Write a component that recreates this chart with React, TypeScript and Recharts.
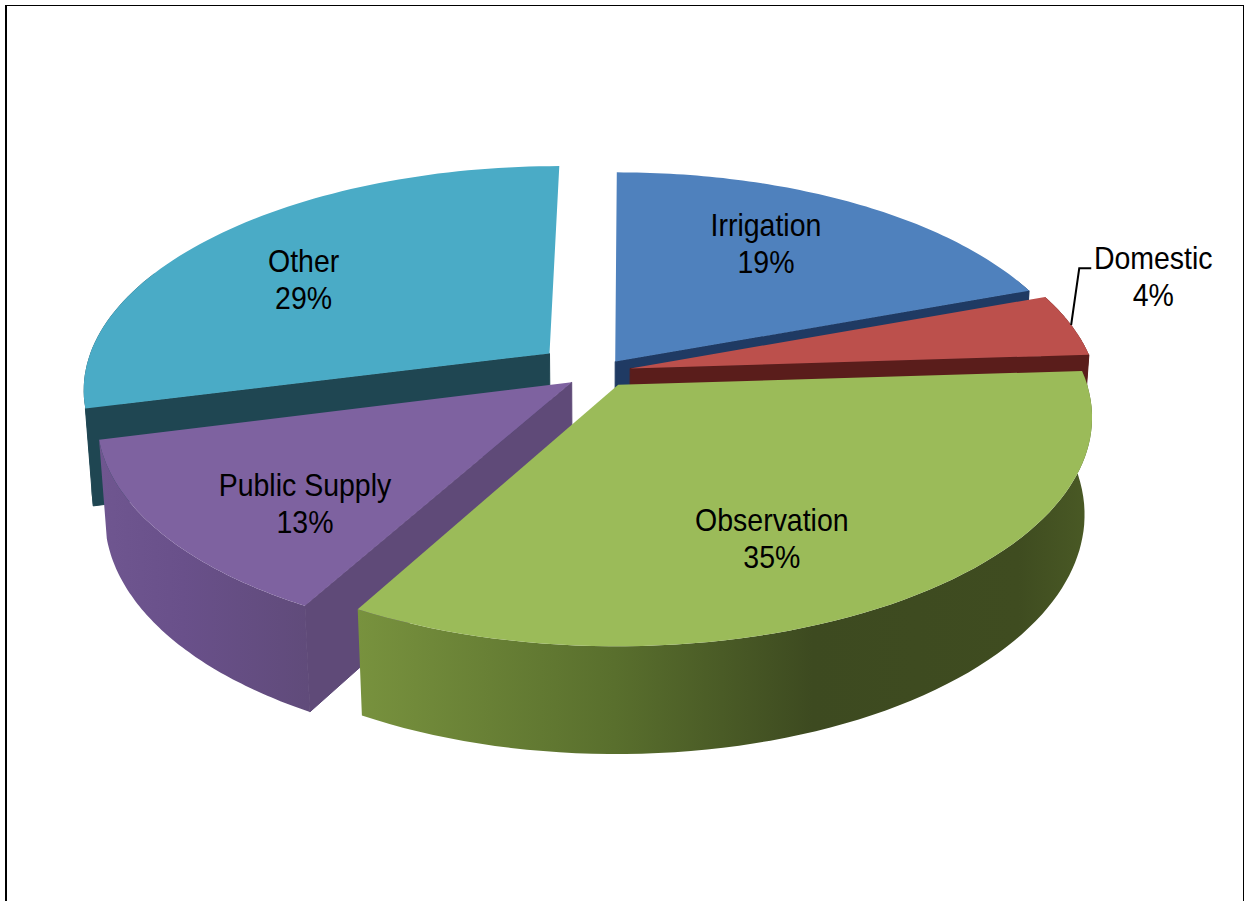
import { Pie, PieChart } from 'recharts'

// Shares in percent, listed from the back slice round the pie clockwise
const categories = ['Other', 'Irrigation', 'Domestic', 'Observation', 'Public Supply']
const shares = [29, 19, 4, 35, 13]

const data = categories.map((name, i) => ({ name, value: shares[i] }))

// Slice pull-out as a fraction of the radius
const explode: Record<string, number> = {
  Other: 0.14,
  Irrigation: 0.058,
  Domestic: 0.067,
  Observation: 0.07,
  'Public Supply': 0.076,
}

const topFill: Record<string, string> = {
  Other: '#4aabc6',
  Irrigation: '#4f81bd',
  Domestic: '#bc504c',
  Observation: '#9bbb59',
  'Public Supply': '#7e62a0',
}

const cutFill: Record<string, string> = {
  Other: '#1f4652',
  Irrigation: '#1f3a63',
  Domestic: '#5a1d1b',
  Observation: '#5f7a2e',
  'Public Supply': '#5f4a78',
}

const wallStops: Record<string, [number, string][]> = {
  Other: [[0, '#1f4652'], [1, '#1f4652']],
  Irrigation: [[0, '#1f3a63'], [1, '#1f3a63']],
  Domestic: [[0, '#5a1d1b'], [1, '#5a1d1b']],
  Observation: [[0, '#78923e'], [0.35, '#596f2d'], [0.62, '#3d4a20'], [0.9, '#3f4c20'], [1, '#4a5a25']],
  'Public Supply': [[0, '#6f5690'], [0.4, '#69508a'], [1, '#604b7a']],
}

// Label spot: radius fraction along the slice's mid angle, plus a nudge in px
const labelPlace: Record<string, { r: number; dx: number; dy: number }> = {
  Other: { r: 0.65, dx: -27, dy: 7 },
  Irrigation: { r: 0.62, dx: 0, dy: -14 },
  Domestic: { r: 1.15, dx: 27, dy: -31 },
  Observation: { r: 0.55, dx: -1, dy: 45 },
  'Public Supply': { r: 0.65, dx: -8, dy: 28 },
}

const TILT = 0.472
const PERSPECTIVE = 0.145
const DEPTH = 97
const DEPTH_SHRINK = 0.015
const LEAN = 4 // px the back of the pie leans right of the front
const RAD = Math.PI / 180

const gradientId = (name: string) => `wall-${name.replace(' ', '-')}`

// The 3D view flattens the rim a little where it runs towards the right-hand side
const rimAngle = (deg: number) => deg - 4 * Math.exp(-((deg / 22) ** 2))

const project = (cx: number, cy: number, R: number, u: number, v: number, z = 0) => {
  const s = 1 / (1 + PERSPECTIVE * v + DEPTH_SHRINK * z)
  return { x: cx + R * u * s + LEAN * v * s, y: cy - R * TILT * v * s + DEPTH * z * s }
}

const toPath = (pts: { x: number; y: number }[]) =>
  pts.map((p, i) => `${i ? 'L' : 'M'}${p.x.toFixed(1)} ${p.y.toFixed(1)}`).join(' ') + ' Z'

const drawSlice = (props: any, only: (name: string) => boolean) => {
  const { cx, cy, outerRadius: R, startAngle, endAngle, midAngle, name } = props
  if (!only(name)) return <g />
  const e = explode[name]
  const ox = e * Math.cos(midAngle * RAD)
  const oy = e * Math.sin(midAngle * RAD)
  const steps = Array.from({ length: 73 }, (_, i) => rimAngle(startAngle + ((endAngle - startAngle) * i) / 72) * RAD)
  const rim = (angles: number[], z: number) =>
    angles.map((a) => project(cx, cy, R, ox + Math.cos(a), oy + Math.sin(a), z))
  const top = rim(steps, 0)
  const bottom = rim(steps, 1)
  // The rim wall at the back of the pie is hidden, so only the front part gets drawn
  const frontSteps = steps.filter((a) => Math.sin(a) < 0.4)
  const apexTop = project(cx, cy, R, ox, oy, 0)
  const apexBottom = project(cx, cy, R, ox, oy, 1)
  const last = top.length - 1
  // A cut face only shows when its outward side points at the viewer
  const startFaces = Math.cos(startAngle * RAD) < -0.01
  const endFaces = -Math.cos(endAngle * RAD) < -0.01
  const cut = cutFill[name]
  return (
    <g>
      {startFaces && <path d={toPath([apexTop, top[0], bottom[0], apexBottom])} fill={cut} stroke={cut} strokeWidth={1} />}
      {endFaces && <path d={toPath([apexTop, top[last], bottom[last], apexBottom])} fill={cut} stroke={cut} strokeWidth={1} />}
      {frontSteps.length > 1 && (
        <path
          d={toPath([...rim(frontSteps, 0), ...rim(frontSteps, 1).reverse()])}
          fill={`url(#${gradientId(name)})`}
        />
      )}
      <path d={toPath([apexTop, ...top])} fill={topFill[name]} />
    </g>
  )
}

const drawLabel = (props: any, only: (name: string) => boolean) => {
  const { cx, cy, outerRadius: R, midAngle, name, percent } = props
  if (!only(name)) return <g />
  const e = explode[name]
  const cos = Math.cos(midAngle * RAD)
  const sin = Math.sin(midAngle * RAD)
  const place = labelPlace[name]
  const p = project(cx, cy, R, cos * (e + place.r), sin * (e + place.r))
  const x = p.x + place.dx
  const y = p.y + place.dy
  const rim = rimAngle(midAngle) * RAD
  const edge = project(cx, cy, R, cos * e + Math.cos(rim), sin * e + Math.sin(rim))
  return (
    <g>
      {name === 'Domestic' && (
        <polyline
          points={`${edge.x},${edge.y} ${x - 74},${y - 9} ${x - 62},${y - 9}`}
          fill="none"
          stroke="#000"
          strokeWidth={2}
        />
      )}
      <text
        transform={`translate(${x} 0) scale(0.89 1)`}
        textAnchor="middle"
        fontFamily="'Liberation Sans', Arial, sans-serif"
        fontSize={32}
        fill="#000"
      >
        <tspan x={0} y={y - 8}>{name}</tspan>
        <tspan x={0} y={y + 29}>{`${Math.round(percent * 100)}%`}</tspan>
      </text>
    </g>
  )
}

const isBackLayer = (name: string) => name !== 'Observation'
const isFrontLayer = (name: string) => name === 'Observation'

export default function App() {
  const pieProps = {
    data,
    dataKey: 'value',
    nameKey: 'name',
    cx: 600,
    cy: 372,
    outerRadius: 465,
    startAngle: 194.4,
    endAngle: -165.6,
    labelLine: false,
    isAnimationActive: false,
  }

  return (
    <div style={{ position: 'absolute', left: 0, top: 0, width: 1244, height: 901, background: '#fff', overflow: 'hidden' }}>
      <div
        style={{
          position: 'absolute',
          left: 5,
          top: 5,
          width: 1236,
          height: 900,
          borderLeft: '2px solid #000',
          borderTop: '1px solid #000',
          borderRight: '1px solid #000',
        }}
      />
      <div style={{ position: 'absolute', left: 0, top: 0 }}>
        <PieChart width={1244} height={901} margin={{ top: 0, right: 0, bottom: 0, left: 0 }}>
          <defs>
            {categories.map((name) => (
              <linearGradient key={name} id={gradientId(name)} x1="0" y1="0" x2="1" y2="0">
                {wallStops[name].map(([offset, color]) => (
                  <stop key={offset} offset={offset} stopColor={color} />
                ))}
              </linearGradient>
            ))}
          </defs>
          {/* Observation goes in its own pass so its corner sits over the Public Supply wall */}
          <Pie
            {...pieProps}
            shape={(p: any) => drawSlice(p, isBackLayer)}
            label={(p: any) => drawLabel(p, isBackLayer)}
          />
          <Pie
            {...pieProps}
            shape={(p: any) => drawSlice(p, isFrontLayer)}
            label={(p: any) => drawLabel(p, isFrontLayer)}
          />
        </PieChart>
      </div>
    </div>
  )
}
